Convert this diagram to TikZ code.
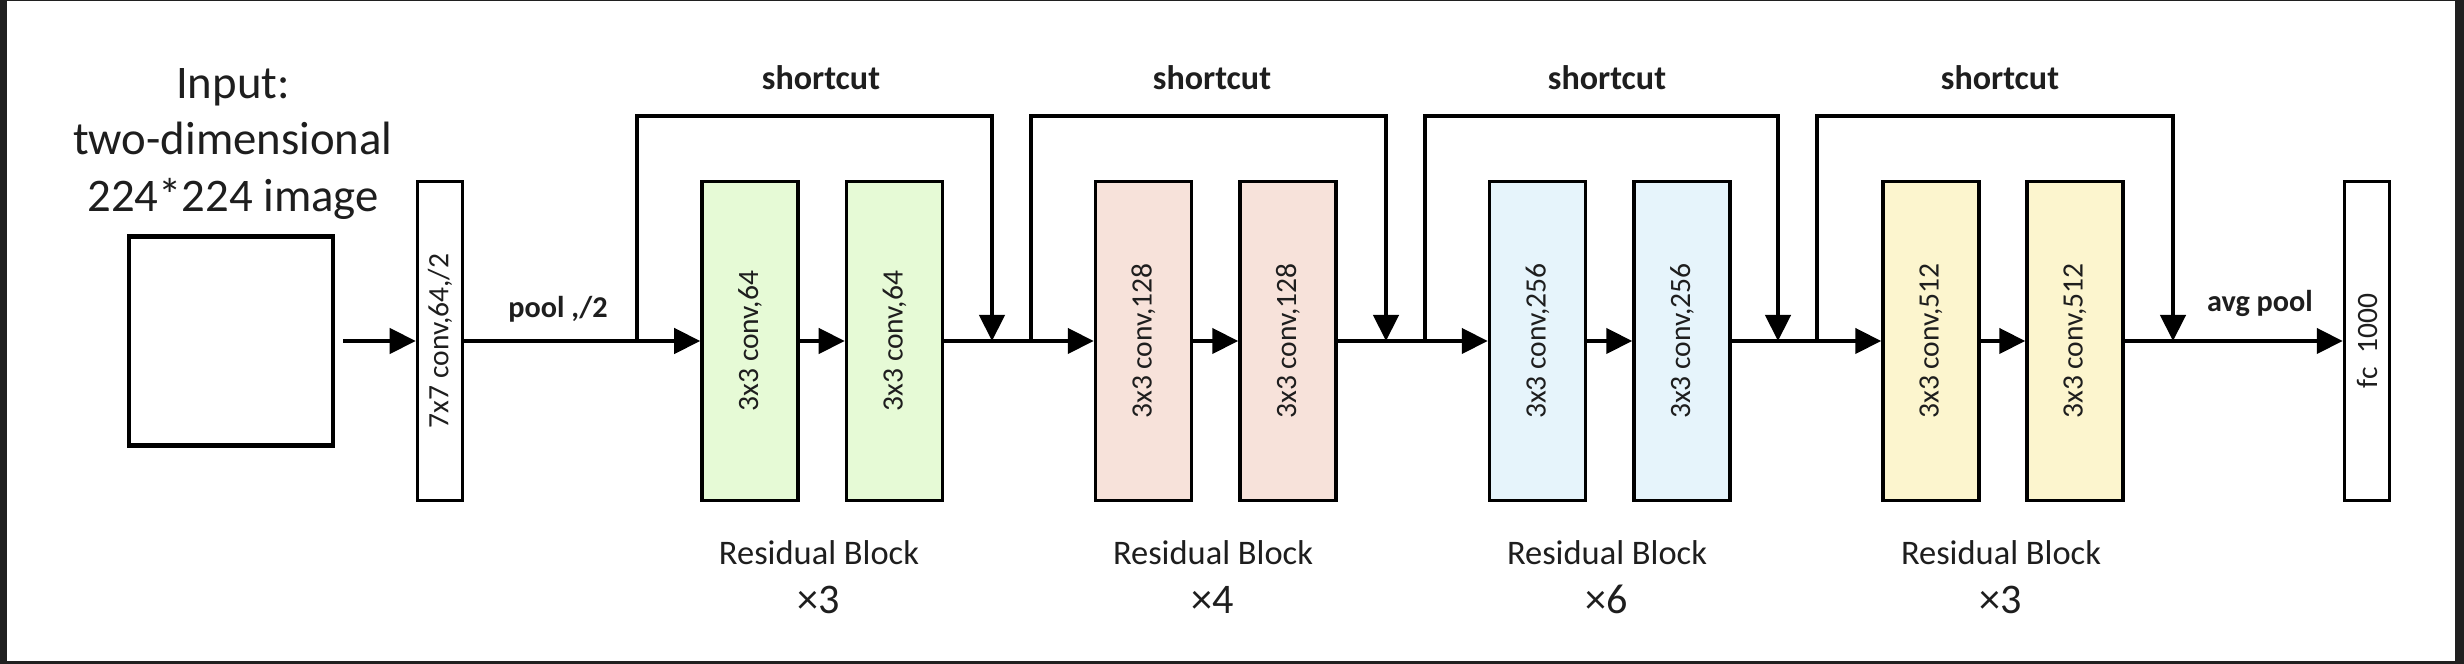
\documentclass[tikz,border=0pt]{standalone}
\usepackage{fontspec}
\setmainfont{Carlito}
\usepackage{tikz}
\usetikzlibrary{arrows.meta,positioning}
\definecolor{framedark}{RGB}{32,32,32}
\definecolor{txtgray}{RGB}{30,30,30}
\definecolor{greenfill}{RGB}{230,250,214}
\definecolor{pinkfill}{RGB}{247,226,218}
\definecolor{bluefill}{RGB}{230,244,251}
\definecolor{yellowfill}{RGB}{252,245,206}
\newcommand{\blockreps}[1]{{\fontsize{12}{12.6}\selectfont ×#1}}

\begin{document}
\begin{tikzpicture}[convbox/.style={draw=black, line width=1pt, minimum width=0.96cm, minimum height=3.19cm, inner sep=0pt, text=txtgray, font=\fontsize{8.4}{10}\selectfont},
	thinbox/.style={convbox, minimum width=0.45cm, fill=white},
	arr/.style={-{Triangle[length=0.26cm,width=0.25cm]}, line width=1.25pt},
	lbl/.style={text=txtgray, font=\bfseries\fontsize{8.6}{10}\selectfont, inner sep=0pt},
	short/.style={text=txtgray, font=\bfseries\fontsize{9.7}{12}\selectfont, inner sep=0pt},
	block/.style={text=txtgray, align=center, font=\fontsize{9.8}{12.6}\selectfont, inner sep=0pt}]
		\fill[framedark] (0,0) rectangle (24.64,6.64);
		\fill[white] (0.07,0.03) rectangle (24.55,6.63);

		\node[text=txtgray, align=center, font=\fontsize{13.3}{16.2}\selectfont] (title) at (2.33,5.20) {Input:\\two-dimensional\\224*224 image};
		\node[draw=black, line width=1.2pt, minimum width=2.04cm, minimum height=2.09cm] (img) at (2.31,3.23) {};

		\node[thinbox] (c7) at (4.40,3.23) {\rotatebox{90}{7x7 conv,64,/2}};
		\node[convbox, fill=greenfill] (g1) at (7.50,3.23) {\rotatebox{90}{3x3 conv,64}};
		\node[convbox, fill=greenfill] (g2) at (8.945,3.23) {\rotatebox{90}{3x3 conv,64}};
		\node[convbox, fill=pinkfill] (p1) at (11.435,3.23) {\rotatebox{90}{3x3 conv,128}};
		\node[convbox, fill=pinkfill] (p2) at (12.88,3.23) {\rotatebox{90}{3x3 conv,128}};
		\node[convbox, fill=bluefill] (b1) at (15.375,3.23) {\rotatebox{90}{3x3 conv,256}};
		\node[convbox, fill=bluefill] (b2) at (16.82,3.23) {\rotatebox{90}{3x3 conv,256}};
		\node[convbox, fill=yellowfill] (y1) at (19.31,3.23) {\rotatebox{90}{3x3 conv,512}};
		\node[convbox, fill=yellowfill] (y2) at (20.75,3.23) {\rotatebox{90}{3x3 conv,512}};
		\node[thinbox] (fc) at (23.67,3.23) {\rotatebox{90}{fc\ \ 1000}};

		\coordinate (s1a) at (6.37,3.23);
		\coordinate (s1b) at (9.92,3.23);
		\coordinate (s2a) at (10.31,3.23);
		\coordinate (s2b) at (13.86,3.23);
		\coordinate (s3a) at (14.25,3.23);
		\coordinate (s3b) at (17.78,3.23);
		\coordinate (s4a) at (18.17,3.23);
		\coordinate (s4b) at (21.73,3.23);

		\draw[arr] ([xshift=0.08cm]img.east) -- (c7.west);
		\draw[arr] (c7) -- (g1);
		\draw[arr] (g1) -- (g2);
		\draw[arr] (g2) -- (p1);
		\draw[arr] (p1) -- (p2);
		\draw[arr] (p2) -- (b1);
		\draw[arr] (b1) -- (b2);
		\draw[arr] (b2) -- (y1);
		\draw[arr] (y1) -- (y2);
		\draw[arr] (y2) -- (fc);

		% shortcuts
		\draw[arr] (s1a) -- (s1a |- 0,5.48) -| (s1b);
		\draw[arr] (s2a) -- (s2a |- 0,5.48) -| (s2b);
		\draw[arr] (s3a) -- (s3a |- 0,5.48) -| (s3b);
		\draw[arr] (s4a) -- (s4a |- 0,5.48) -| (s4b);

		\node[short] (sc1) at (8.21,5.86) {shortcut};
		\node[short] (sc2) at (12.12,5.86) {shortcut};
		\node[short] (sc3) at (16.07,5.86) {shortcut};
		\node[short] (sc4) at (20.00,5.86) {shortcut};

		\node[lbl] (pool) at (5.58,3.55) {pool ,/2};
		\node[lbl] (avg) at (22.60,3.61) {avg pool};

		\node[block] (rb1) at (8.19,0.87) {Residual Block\\[1.5pt]\blockreps{3}};
		\node[block] (rb2) at (12.13,0.87) {Residual Block\\[1.5pt]\blockreps{4}};
		\node[block] (rb3) at (16.07,0.87) {Residual Block\\[1.5pt]\blockreps{6}};
		\node[block] (rb4) at (20.01,0.87) {Residual Block\\[1.5pt]\blockreps{3}};
	\end{tikzpicture}
\end{document}
